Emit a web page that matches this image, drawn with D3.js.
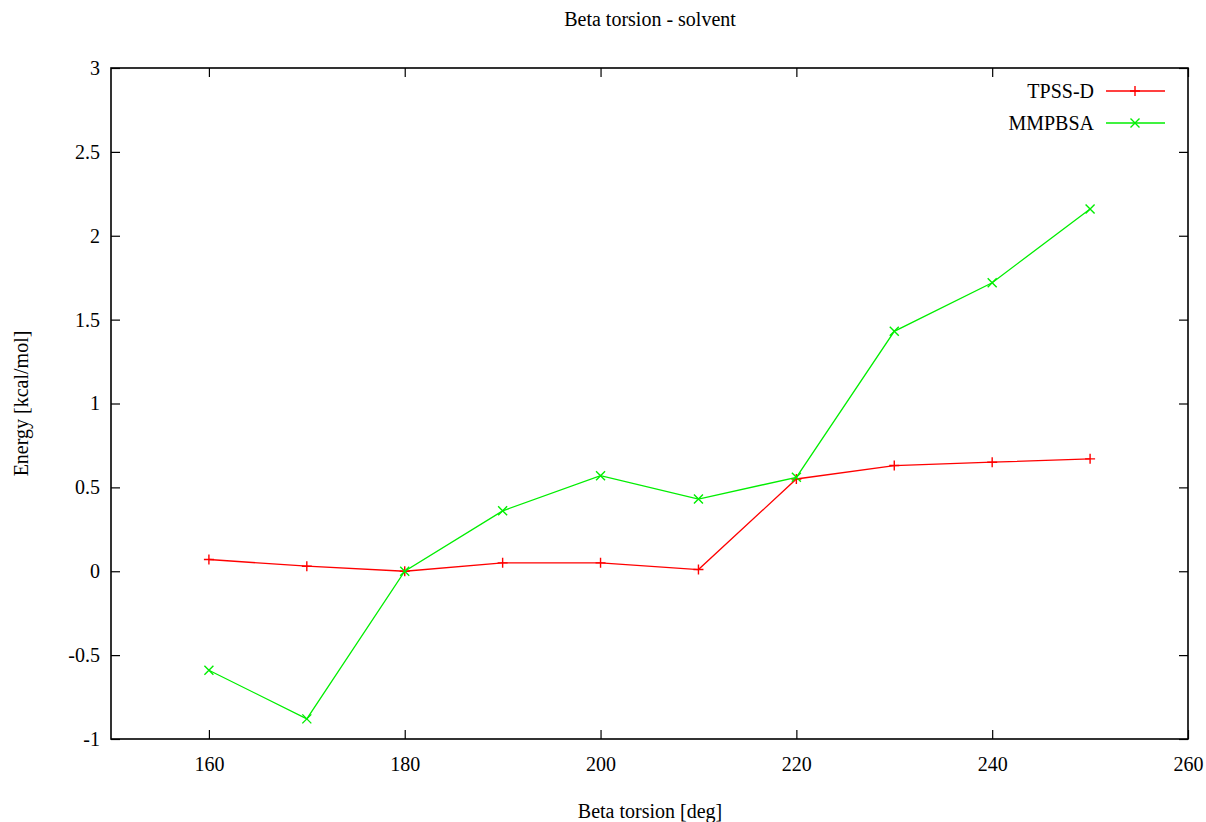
<!DOCTYPE html>
<html>
<head>
<meta charset="utf-8">
<script src="https://cdn.jsdelivr.net/npm/d3@7"></script>
<style>
  body { margin: 0; background: #fff; }
  svg text { font-family: "Liberation Serif", "Times New Roman", serif; font-size: 20px; fill: #000; }
</style>
</head>
<body>
<div id="vizcontainer"></div>
<script>
const angles = [160, 170, 180, 190, 200, 210, 220, 230, 240, 250];
const tpssD = [0.07, 0.03, 0.0, 0.05, 0.05, 0.01, 0.55, 0.63, 0.65, 0.67];
const mmpbsa = [-0.59, -0.88, 0.0, 0.36, 0.57, 0.43, 0.56, 1.43, 1.72, 2.16];
const xTicks = [160, 180, 200, 220, 240, 260];
const yTicks = [-1, -0.5, 0, 0.5, 1, 1.5, 2, 2.5, 3];
const seriesNames = ['TPSS-D', 'MMPBSA'];

const
  width = 1206,
  height = 822,
  margin = { left: 111, right: 18, top: 68, bottom: 83 },
  tickLen = 9;

const svg = d3.select('#vizcontainer')
  .append('svg')
  .attr('width', width)
  .attr('height', height);

const x = d3.scaleLinear()
  .domain([150, 260])
  .range([margin.left, width - margin.right]);

const y = d3.scaleLinear()
  .domain([-1, 3])
  .range([height - margin.bottom, margin.top]);

// ticks, inward on all four sides (gnuplot style)
const fmt = d => d3.format('')(d).replace('\u2212', '-');

svg.append('g')
  .attr('transform', `translate(0,${y(-1)})`)
  .call(d3.axisBottom(x).tickValues(xTicks).tickSize(-tickLen).tickPadding(18).tickFormat(fmt))
  .call(g => g.select('.domain').remove());
svg.append('g')
  .attr('transform', `translate(0,${y(3)})`)
  .call(d3.axisTop(x).tickValues(xTicks).tickSize(-tickLen).tickFormat(''))
  .call(g => g.select('.domain').remove());
svg.append('g')
  .attr('transform', `translate(${x(150)},0)`)
  .call(d3.axisLeft(y).tickValues(yTicks).tickSize(-tickLen).tickPadding(11).tickFormat(fmt))
  .call(g => g.select('.domain').remove());
svg.append('g')
  .attr('transform', `translate(${x(260)},0)`)
  .call(d3.axisRight(y).tickValues(yTicks).tickSize(-tickLen).tickFormat(''))
  .call(g => g.select('.domain').remove());

svg.selectAll('.tick line').attr('stroke', '#000').attr('stroke-width', 1.2);
svg.selectAll('.tick text').attr('font-size', 20).attr('font-family', '"Liberation Serif", serif');

svg.append('rect')
  .attr('x', x(150)).attr('y', y(3))
  .attr('width', x(260) - x(150)).attr('height', y(-1) - y(3))
  .attr('fill', 'none').attr('stroke', '#000').attr('stroke-width', 1.6);

// series
const plus = (g, s) => g.append('path')
  .attr('d', `M${-s},0H${s}M0,${-s}V${s}`);
const cross = (g, s) => g.append('path')
  .attr('d', `M${-s},${-s}L${s},${s}M${-s},${s}L${s},${-s}`);

const series = [
  { name: seriesNames[0], values: tpssD, color: '#ff0000', mark: plus },
  { name: seriesNames[1], values: mmpbsa, color: '#00ee00', mark: cross }
];

const line = d3.line().x((d, i) => x(angles[i])).y(d => y(d));

series.forEach((s, k) => {
  const g = svg.append('g');
  g.append('path')
    .datum(s.values)
    .attr('d', line)
    .attr('fill', 'none')
    .attr('stroke', s.color)
    .attr('stroke-width', 1.3);
  s.values.forEach((v, i) => {
    const m = g.append('g').attr('transform', `translate(${x(angles[i])},${y(v)})`);
    s.mark(m, k === 0 ? 5 : 4.5).attr('stroke', s.color).attr('stroke-width', 1.4);
  });

  // legend
  const ly = 91 + k * 32;
  svg.append('text')
    .attr('x', 1094).attr('y', ly)
    .attr('dy', '0.35em')
    .attr('text-anchor', 'end')
    .text(s.name);
  svg.append('line')
    .attr('x1', 1106).attr('x2', 1165).attr('y1', ly).attr('y2', ly)
    .attr('stroke', s.color).attr('stroke-width', 1.3);
  const m = svg.append('g').attr('transform', `translate(1135,${ly})`);
  s.mark(m, k === 0 ? 5 : 4.5).attr('stroke', s.color).attr('stroke-width', 1.4);
});

// titles
svg.append('text')
  .attr('x', 650).attr('y', 19)
  .attr('dy', '0.35em')
  .attr('text-anchor', 'middle')
  .text('Beta torsion - solvent');

svg.append('text')
  .attr('x', 650).attr('y', 811)
  .attr('dy', '0.35em')
  .attr('text-anchor', 'middle')
  .text('Beta torsion [deg]');

svg.append('text')
  .attr('transform', `translate(21,${(y(3) + y(-1)) / 2}) rotate(-90)`)
  .attr('dy', '0.35em')
  .attr('text-anchor', 'middle')
  .text('Energy [kcal/mol]');
</script>
</body>
</html>
